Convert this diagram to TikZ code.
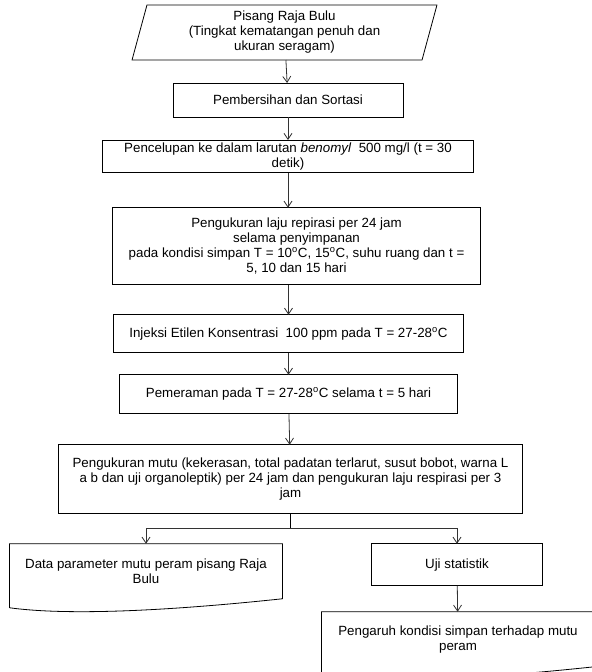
\documentclass[tikz,border=0pt]{standalone}
\usepackage{fontspec}
\setmainfont{Liberation Sans}
\usetikzlibrary{arrows.meta,positioning,calc}

\newcommand{\docoutline}[1]{%
\draw[line width=0.6pt] ([yshift=-6.75pt]#1.south west) -- (#1.north west) -- (#1.north east) -- (#1.south east)
.. controls +(-99pt,-10.5pt) and +(38.25pt,-5.25pt) .. ([yshift=-6.75pt]#1.south west);}

\begin{document}
\begin{tikzpicture}[
every node/.style={
draw,
line width=0.6pt,
outer sep=0pt,
align=center,
inner sep=2pt,
font=\fontsize{10}{11.25}\selectfont
},
edge/.style={-{Straight Barb[length=4.5pt,width=6pt]},line width=0.6pt,black!80},
link/.style={line width=1pt},
docbox/.style={draw=none,minimum width=204.75pt,minimum height=41.25pt}
]
\useasboundingbox (0,0) rectangle (444pt,-504pt);

\node[draw=none,minimum width=217.5pt,minimum height=41.25pt] (bulu) at (213.375pt,-24.375pt)
{Pisang Raja Bulu\\(Tingkat kematangan penuh dan\\ukuran seragam)};
\draw[line width=0.6pt] ([xshift=5.6pt]bulu.north west) -- ([xshift=5.6pt]bulu.north east)
-- ([xshift=-5.6pt]bulu.south east) -- ([xshift=-5.6pt]bulu.south west) -- cycle;

\node[minimum width=172.5pt,minimum height=25.5pt] (bersih) [below=17.25pt of bulu,xshift=2.625pt]
{Pembersihan dan Sortasi};
\node[minimum width=278.25pt,minimum height=22.5pt] (celup) [below=17.25pt of bersih]
{Pencelupan ke dalam larutan \textit{benomyl}\ \ 500 mg/l (t = 30\\detik)};
\node[minimum width=276pt,minimum height=57.75pt] (respirasi) [below=26.25pt of celup,xshift=6.375pt]
{Pengukuran laju repirasi per 24 jam\\selama penyimpanan\\pada kondisi simpan T = 10\textsuperscript{o}C, 15\textsuperscript{o}C, suhu ruang dan t =\\5, 10 dan 15 hari};
\node[minimum width=262.5pt,minimum height=28.5pt] (etilen) [below=22.5pt of respirasi,xshift=-6pt]
{Injeksi Etilen Konsentrasi\ \ 100 ppm pada T = 27-28\textsuperscript{o}C};
\node[minimum width=253.5pt,minimum height=29.25pt] (peram) [below=16.5pt of etilen]
{Pemeraman pada T = 27-28\textsuperscript{o}C selama t = 5 hari};
\node[minimum width=348pt,minimum height=51.75pt] (mutu) [below=23.25pt of peram,xshift=1.5pt]
{Pengukuran mutu (kekerasan, total padatan terlarut, susut bobot, warna L\\a b dan uji organoleptik) per 24 jam dan pengukuran laju respirasi per 3\\jam};
\coordinate[below=11.25pt of mutu] (split);

\node[docbox] (data) [below=11.25pt of split,xshift=-108.375pt]
{Data parameter mutu peram pisang Raja\\Bulu};
\docoutline{data}
\node[minimum width=128.25pt,minimum height=31.5pt] (uji) [below=11.25pt of split,xshift=124.875pt]
{Uji statistik};
\node[docbox] (pengaruh) [below=19.5pt of uji,xshift=0.75pt]
{Pengaruh kondisi simpan terhadap mutu\\peram};
\docoutline{pengaruh}

\draw[edge] (bulu) -- (bersih);
\draw[edge] (bersih) -- (celup);
\draw[edge] (celup) -- (celup |- respirasi.north);
\draw[edge] (respirasi.south -| etilen) -- (etilen);
\draw[edge] (etilen) -- (peram);
\draw[edge] (peram) -- (mutu);
\draw[link] (mutu) -- (split);
\draw[edge] (split) -| (data);
\draw[edge] (split) -| (uji);
\draw[edge] (uji) -- (pengaruh);
\end{tikzpicture}
\end{document}
